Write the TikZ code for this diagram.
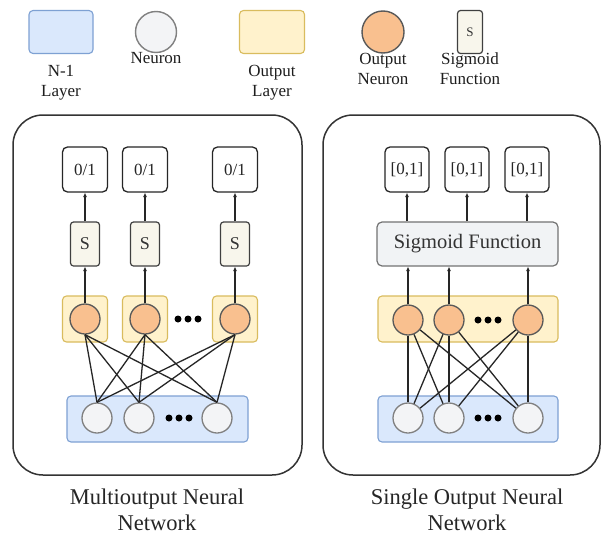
\documentclass[tikz,border=0pt]{standalone}
\usepackage{fontspec}
\setmainfont{Liberation Serif}
\usetikzlibrary{arrows.meta}
\definecolor{blueF}{HTML}{DAE8FC}
\definecolor{blueD}{HTML}{7EA1D3}
\definecolor{yelF}{HTML}{FFF2CC}
\definecolor{yelD}{HTML}{D9BC5E}
\definecolor{oraF}{HTML}{F9C08F}
\definecolor{neuF}{HTML}{F3F4F6}
\definecolor{sigF}{HTML}{F8F6EC}
\definecolor{gryF}{HTML}{F1F3F5}
\definecolor{txt}{HTML}{1E1E1E}
\tikzset{
  layerN/.style={draw=blueD, fill=blueF, rounded corners=4pt, line width=1.1pt, inner sep=0pt},
  outlayer/.style={draw=yelD, fill=yelF, rounded corners=4pt, line width=1.1pt, inner sep=0pt},
  neuron/.style={circle, draw=black!50, fill=neuF, minimum size=30pt, inner sep=0pt, line width=1.3pt},
  oneuron/.style={circle, draw=black!65, fill=oraF, minimum size=30pt, inner sep=0pt, line width=1.3pt},
  sbox/.style={draw=black!75, fill=sigF, rounded corners=3pt, minimum width=29pt, minimum height=44pt, inner sep=0pt, line width=1.2pt, font=\fontsize{18}{20}\selectfont, text=black!80},
  obox/.style={draw=black!85, fill=white, rounded corners=5pt, minimum width=45pt, minimum height=45pt, inner sep=0pt, line width=1.3pt, font=\fontsize{17}{20}\selectfont, text=black!85},
  rbox/.style={obox, minimum width=44pt},
  panel/.style={draw=black!80, line width=1.5pt, rounded corners=30pt, inner sep=0pt},
  lgtext/.style={align=center, anchor=north, inner sep=0pt, text=txt, font=\fontsize{17}{20}\selectfont},
  title/.style={align=center, anchor=north, inner sep=0pt, text=black!85, font=\fontsize{22.5}{26}\selectfont},
  conn/.style={line width=1.3pt, draw=black!85},
  arr/.style={line width=1.4pt, draw=black!85, -{Latex[length=4.5pt,width=4pt]}},
}
\newcommand{\threedots}[2]{\foreach \dx in {-10,0,10} \fill (#1+\dx,#2) circle (3.5pt);}
\begin{document}
\begin{tikzpicture}[x=1pt,y=-1pt]
\useasboundingbox (0,0) rectangle (602,538);
\fill[white] (0,0) rectangle (602,538);

% ---------- legend ----------
\node[layerN, minimum width=64pt, minimum height=43pt] (lgN) at (61,32) {};
\node[lgtext] (lgNt) at (61,65) {N-1\\Layer};
\node[neuron, minimum size=41pt, line width=1.4pt] (lgNeu) at (156,32) {};
\node[lgtext] (lgNeut) at (156,52) {Neuron};
\node[outlayer, minimum width=65pt, minimum height=43pt] (lgO) at (272,32) {};
\node[lgtext] (lgOt) at (272,65) {Output\\Layer};
\node[oneuron, minimum size=42pt, line width=1.4pt] (lgON) at (383,32) {};
\node[lgtext] (lgONt) at (383,53) {Output\\Neuron};
\node[sbox, minimum width=25pt, minimum height=43pt, font=\fontsize{13}{15}\selectfont] (lgS) at (470,32) {S};
\node[lgtext] (lgSt) at (470,53) {Sigmoid\\Function};

% ---------- left panel ----------
\node[panel, minimum width=289pt, minimum height=360pt] (pL) at (157.5,295) {};
\foreach \i/\x in {1/85, 2/145, 3/235} {
  \node[obox] (L\i o) at (\x,169.5) {0/1};
  \node[sbox] (L\i s) at (\x,244) {S};
  \node[outlayer, minimum width=45pt, minimum height=46pt] (L\i y) at (\x,319) {};
  \node[oneuron] (L\i n) at (\x,319) {};
  \draw[arr] (L\i s.north) -- (L\i o.south);
  \draw[arr] (L\i n.north) -- (L\i s.south);
}
\threedots{188}{319}
\node[layerN, minimum width=181pt, minimum height=46pt] (Lin) at (157.5,419) {};
\foreach \i/\x in {1/97, 2/139, 3/217} {
  \node[neuron] (L\i i) at (\x,418) {};
}
\threedots{179}{418}
\foreach \a in {1,2,3} {
  \foreach \b in {1,2,3} {
    \draw[conn] (L\a n.south) -- (L\b i.north);
  }
}
\node[title] (tL) at (157,489) {Multioutput Neural\\Network};

% ---------- right panel ----------
\node[panel, minimum width=277pt, minimum height=360pt] (pR) at (461.5,295) {};
\node[draw=black!55, fill=gryF, rounded corners=5pt, line width=1.2pt, minimum width=181pt, minimum height=44pt, inner sep=0pt, text=black!80, font=\fontsize{20.5}{24}\selectfont] (sig) at (467.5,244) {Sigmoid Function};
\node[outlayer, minimum width=180pt, minimum height=46pt] (Ry) at (468,319) {};
\node[layerN, minimum width=180pt, minimum height=46pt] (Rin) at (468,419) {};
\foreach \i/\x in {1/407, 2/467, 3/527} {
  \node[rbox] (R\i o) at (\x,169.5) {[0,1]};
  \draw[arr] (R\i o.south |- sig.north) -- (R\i o.south);
}
\foreach \i/\x in {1/408, 2/449, 3/528} {
  \node[oneuron] (R\i n) at (\x,320) {};
  \node[neuron] (R\i i) at (\x,418) {};
  \draw[arr] (R\i n.north) -- (R\i n.north |- sig.south);
}
\threedots{488}{320}
\threedots{488}{418}
\foreach \a in {1,2,3} {
  \foreach \b in {1,2,3} {
    \draw[conn] (R\a n) -- (R\b i);
  }
}
\node[title] (tR) at (467,489) {Single Output Neural\\Network};
\end{tikzpicture}
\end{document}
